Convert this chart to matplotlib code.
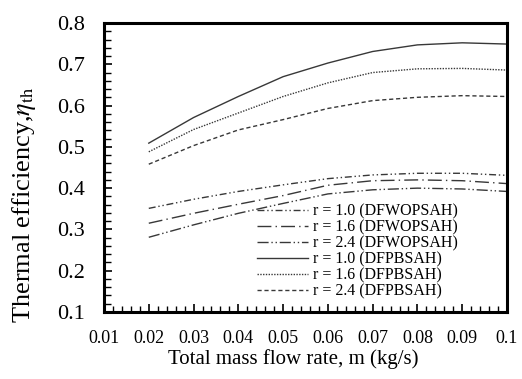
import matplotlib
matplotlib.use("Agg")
import matplotlib.pyplot as plt
from matplotlib.ticker import MultipleLocator, FuncFormatter

plt.rcParams['font.family'] = ['Liberation Serif', 'DejaVu Serif']
plt.rcParams['mathtext.fontset'] = 'stix'

# mass flow rate (kg/s)
m_flow = [0.02, 0.03, 0.04, 0.05, 0.06, 0.07, 0.08, 0.09, 0.10]

# thermal efficiency, double flow without porous (DFWOPSAH)
wo_r10 = [0.351, 0.373, 0.392, 0.408, 0.423, 0.432, 0.436, 0.436, 0.431]
wo_r16 = [0.315, 0.339, 0.361, 0.382, 0.407, 0.418, 0.420, 0.418, 0.411]
wo_r24 = [0.281, 0.311, 0.339, 0.363, 0.386, 0.396, 0.400, 0.398, 0.392]

# thermal efficiency, double flow packed bed (DFPBSAH)
pb_r10 = [0.509, 0.571, 0.622, 0.670, 0.703, 0.731, 0.747, 0.752, 0.749]
pb_r16 = [0.488, 0.542, 0.582, 0.622, 0.655, 0.680, 0.689, 0.690, 0.686]
pb_r24 = [0.458, 0.503, 0.541, 0.566, 0.593, 0.612, 0.620, 0.624, 0.622]

labels = ["r = 1.0 (DFWOPSAH)", "r = 1.6 (DFWOPSAH)", "r = 2.4 (DFWOPSAH)",
          "r = 1.0 (DFPBSAH)", "r = 1.6 (DFPBSAH)", "r = 2.4 (DFPBSAH)"]

fig = plt.figure(figsize=(5.22, 3.79), dpi=100)
ax = fig.add_axes([104/522, 1 - 312/379, (507 - 104)/522, (312 - 23)/379])

col = '#383838'
ax.plot(m_flow, wo_r10, color=col, lw=1.0, ls=(0, (5, 2, 1, 2, 1, 2)), label=labels[0])
ax.plot(m_flow, wo_r16, color=col, lw=1.0, ls=(0, (10, 3, 1, 3)), label=labels[1])
ax.plot(m_flow, wo_r24, color=col, lw=1.0, ls=(0, (8, 2, 1, 2, 1, 2)), label=labels[2])
ax.plot(m_flow, pb_r10, color=col, lw=1.0, ls='-', label=labels[3])
ax.plot(m_flow, pb_r16, color=col, lw=1.0, ls=(0, (1, 1)), label=labels[4])
ax.plot(m_flow, pb_r24, color=col, lw=1.0, ls=(0, (3, 2)), label=labels[5])

ax.set_xlim(0.01, 0.1)
ax.set_ylim(0.1, 0.8)
ax.xaxis.set_major_locator(MultipleLocator(0.01))
ax.xaxis.set_minor_locator(MultipleLocator(0.002))
ax.yaxis.set_major_locator(MultipleLocator(0.1))
ax.yaxis.set_minor_locator(MultipleLocator(0.02))
fmt = FuncFormatter(lambda v, p: '%g' % round(v, 3))
ax.xaxis.set_major_formatter(fmt)
ax.yaxis.set_major_formatter(fmt)

ax.tick_params(axis='both', which='both', direction='in', top=False, right=False, color='black')
ax.tick_params(axis='x', which='major', length=6, width=1.2, labelsize=13, pad=13)
ax.tick_params(axis='x', which='minor', length=4, width=1.0)
ax.tick_params(axis='y', which='major', length=6, width=1.2, labelsize=16, pad=14)
ax.tick_params(axis='y', which='minor', length=5, width=1.0)
for s in ax.spines.values():
    s.set_linewidth(2.2)

ax.set_xlabel('Total mass flow rate, m (kg/s)', fontsize=15)
ax.xaxis.set_label_coords(0.47, -0.13)
ax.set_ylabel(r'Thermal efficiency,$\eta_{\rm th}$', fontsize=19)
ax.yaxis.set_label_coords(-0.165, 0.37)

ax.legend(loc='upper left', bbox_to_anchor=(0.38, 0.375), frameon=False,
          fontsize=11.5, handlelength=3.2, handletextpad=0.3, labelspacing=0.0,
          borderaxespad=0, borderpad=0)

fig.savefig('out.png', dpi=100)
